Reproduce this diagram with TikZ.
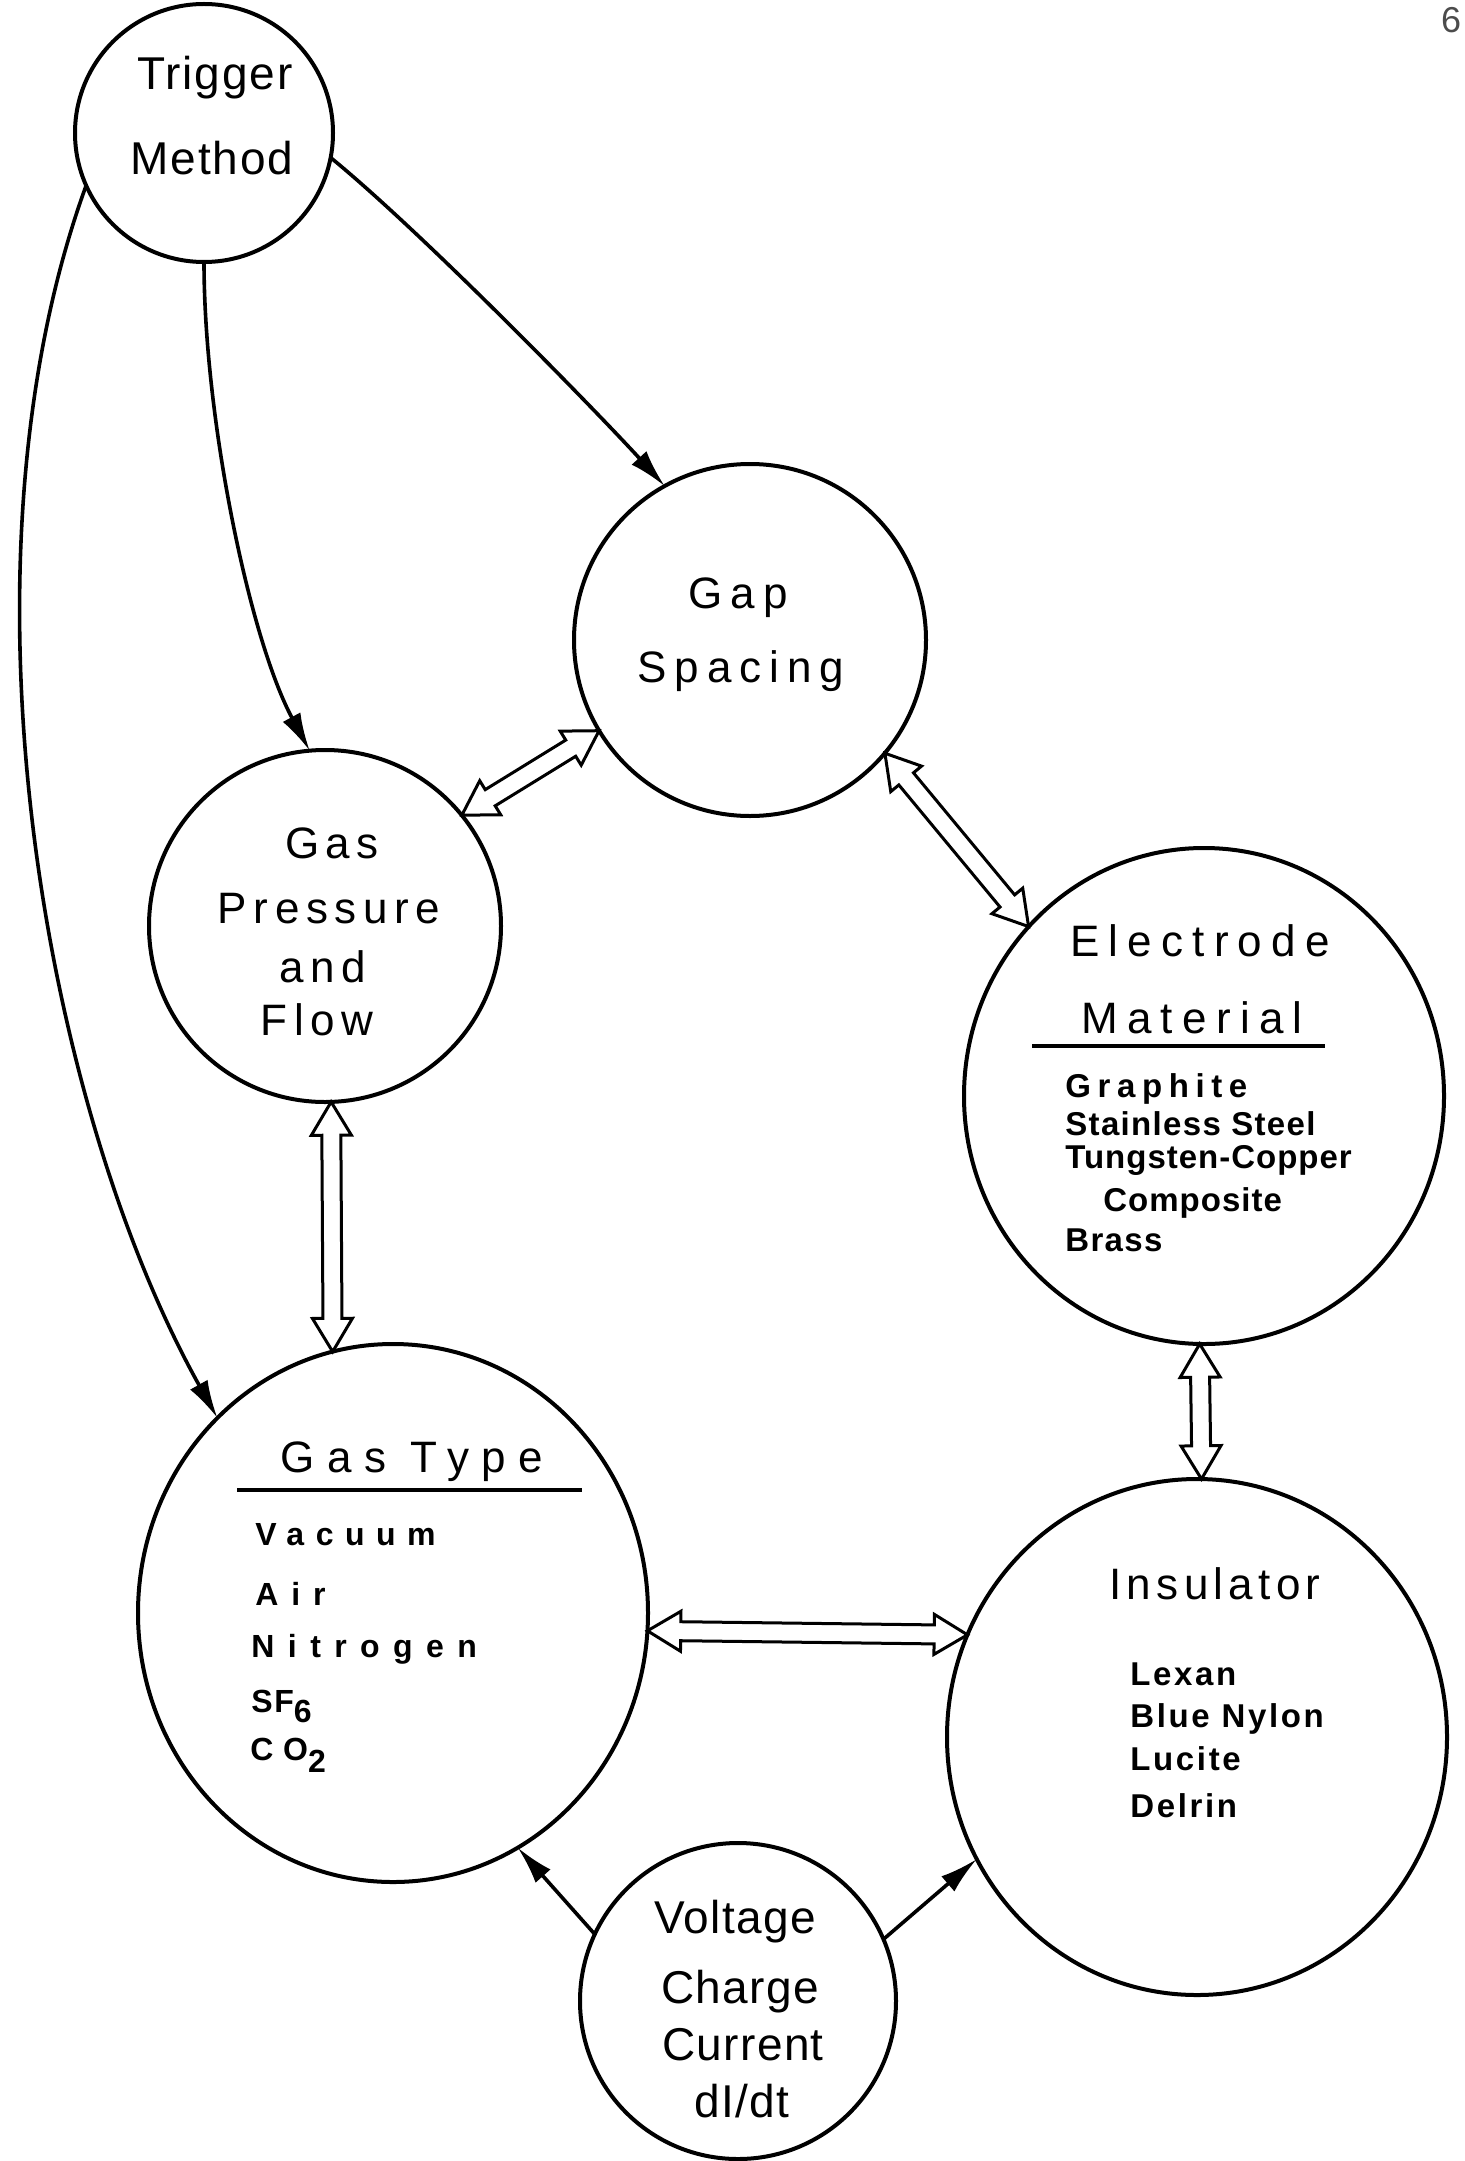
\documentclass[tikz,border=0pt]{standalone}
\usepackage{fontspec}
\setmainfont{Liberation Sans}
\usetikzlibrary{arrows.meta}
\usetikzlibrary{shapes.geometric}
\usetikzlibrary{shapes.arrows}
\usetikzlibrary{calc}

\newcommand{\spaced}[1]{\addfontfeature{LetterSpace=#1}}

% hollow two-way arrow between two border points
\newcommand{\twoway}[3]{%
  \path let \p1=(#2), \p2=(#3),
    \n1={atan2(\y2-\y1,\x2-\x1)}, \n2={veclen(\x2-\x1,\y2-\y1)} in
    node[hollow, minimum height=\n2, rotate=\n1] (#1) at ($(\p1)!0.5!(\p2)$) {};}

\tikzset{
  bubble/.style={ellipse, draw, line width=2pt, inner sep=0pt, outer sep=0pt},
  head/.style={anchor=base, inner sep=0pt, font=\fontsize{22}{22}\selectfont},
  item/.style={anchor=base west, inner sep=0pt, font=\fontsize{16.5}{16.5}\selectfont\bfseries},
  conn/.style={line width=1.8pt, -{Latex[length=19pt,width=10pt]}},
  hollow/.style={double arrow, draw, fill=white, line width=1.5pt, inner xsep=0pt, inner ysep=4pt,
    double arrow head extend=5.25pt, double arrow tip angle=62},
}

\begin{document}
\begin{tikzpicture}[x=0.5pt, y=0.5pt]
\useasboundingbox (0,0) rectangle (1464,-2161);

\node[font=\fontsize{18}{18}\selectfont, text=black!70, inner sep=0pt] (pageno) at (1451,-20) {6};

% circles
\node[bubble, minimum width=129pt, minimum height=129pt] (trigger) at (204,-133) {};
\node[bubble, minimum width=176pt, minimum height=176pt] (gap) at (750,-640) {};
\node[bubble, minimum width=176pt, minimum height=176pt] (press) at (325,-926) {};
\node[bubble, minimum width=240pt, minimum height=248pt] (elec) at (1204,-1096) {};
\node[bubble, minimum width=255pt, minimum height=269pt] (gastype) at (393,-1613) {};
\node[bubble, minimum width=250pt, minimum height=258pt] (insul) at (1197,-1737) {};
\node[bubble, minimum width=158pt, minimum height=158pt] (volt) at (738,-2001) {};

% Trigger Method
\node[head, font=\fontsize{23}{23}\selectfont] (trigger-a) at (215,-90) {\spaced{4}Trigger};
\node[head, font=\fontsize{23}{23}\selectfont] (trigger-b) at (212,-175) {\spaced{4}Method};

% Gap Spacing
\node[head] (gap-a) at (738,-608) {\spaced{18}Gap};
\node[head] (gap-b) at (741,-682) {\spaced{18}Spacing};

% Gas Pressure and Flow
\node[head] (press-a) at (332,-858) {\spaced{15}Gas};
\node[head] (press-b) at (329,-923) {\spaced{15}Pressure};
\node[head] (press-c) at (323,-982) {\spaced{15}and};
\node[head] (press-d) at (317,-1035) {\spaced{15}Flow};

% Electrode Material
\node[head] (elec-a) at (1200,-956) {\spaced{21}Electrode};
\node[head] (elec-b) at (1192,-1033) {\spaced{21}Material};
\draw[line width=2pt] (1032,-1046) coordinate (elec-l) -- (1325,-1046) coordinate (elec-r);
\node[item] (elec-1) at (1065,-1097) {\spaced{20}Graphite};
\node[item] (elec-2) at (1065,-1135) {\spaced{4}Stainless Steel};
\node[item] (elec-3) at (1065,-1168) {\spaced{3}Tungsten-Copper};
\node[item] (elec-4) at (1103,-1211) {\spaced{3}Composite};
\node[item] (elec-5) at (1065,-1251) {\spaced{4}Brass};

% Gas Type
\node[head] (gastype-a) at (412,-1472) {\spaced{28}Gas Type};
\draw[line width=2pt] (237,-1490) coordinate (gastype-l) -- (582,-1490) coordinate (gastype-r);
\node[item, font=\fontsize{16}{16}\selectfont\bfseries] (gastype-1) at (255,-1545) {\spaced{36}Vacuum};
\node[item, font=\fontsize{16}{16}\selectfont\bfseries] (gastype-2) at (255,-1605) {\spaced{40}Air};
\node[item, font=\fontsize{16}{16}\selectfont\bfseries] (gastype-3) at (251,-1657) {\spaced{42}Nitrogen};
\node[item, font=\fontsize{16}{16}\selectfont\bfseries] (gastype-4) at (251,-1712) {\spaced{5}SF\raisebox{-5pt}{6}};
\node[item, font=\fontsize{16}{16}\selectfont\bfseries] (gastype-5) at (250,-1760) {{\spaced{30}CO}\raisebox{-6pt}{2}};

% Insulator
\node[head] (insul-a) at (1215,-1599) {\spaced{12}Insulator};
\node[item] (insul-1) at (1130,-1685) {\spaced{8}Lexan};
\node[item] (insul-2) at (1130,-1727) {\spaced{8}Blue Nylon};
\node[item] (insul-3) at (1130,-1770) {\spaced{8}Lucite};
\node[item] (insul-4) at (1130,-1817) {\spaced{8}Delrin};

% Voltage
\node[head, font=\fontsize{23}{23}\selectfont] (volt-a) at (735,-1933) {\spaced{3}Voltage};
\node[head, font=\fontsize{23}{23}\selectfont] (volt-b) at (740,-2003) {\spaced{3}Charge};
\node[head, font=\fontsize{23}{23}\selectfont] (volt-c) at (743,-2060) {\spaced{3}Current};
\node[head, font=\fontsize{23}{23}\selectfont] (volt-d) at (742,-2117) {\spaced{3}dI/dt};

% one-way arrows
\draw[conn] (trigger.204) .. controls (-50,-560) and (40,-1100) .. (gastype.132);
\draw[conn] (trigger.270) .. controls (204,-420) and (250,-640) .. (press.95);
\draw[conn] (trigger.349) .. controls (423,-233) and (600,-415) .. (gap.119);
\draw[conn] (volt.155) -- (gastype.-62);
\draw[conn] (volt.23) -- (insul.209);

% two-way arrows
\twoway{pg}{press.39}{gap.211}
\twoway{ge}{gap.320}{elec.136}
\twoway{pt}{press.272}{gastype.103}
\twoway{ei}{elec.269}{insul.89}
\twoway{ti}{gastype.-4}{insul.156}

\end{tikzpicture}
\end{document}
